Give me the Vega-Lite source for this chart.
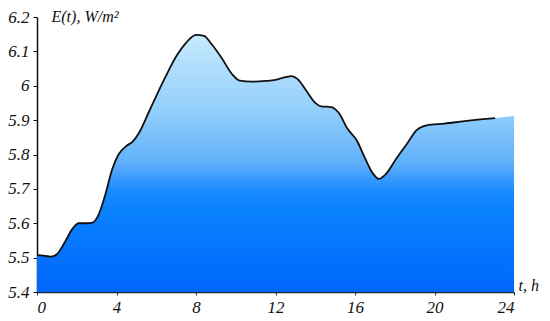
{
  "$schema": "https://vega.github.io/schema/vega-lite/v6.json",
  "autosize": "none",
  "width": 477,
  "height": 275,
  "padding": {"left": 37, "top": 17, "right": 36, "bottom": 29},
  "background": "white",
  "config": {
    "view": {"stroke": null},
    "axis": {
      "labelFont": "Liberation Serif", "labelFontStyle": "italic", "labelFontSize": 17, "labelColor": "#111",
      "titleFont": "Liberation Serif", "titleFontStyle": "italic", "titleFontWeight": "normal", "titleFontSize": 16, "titleColor": "#111",
      "grid": false, "zindex": 1
    }
  },
  "data": {"values": [
    {"t": 0, "E": 5.508}, {"t": 0.3, "E": 5.506}, {"t": 0.7, "E": 5.503}, {"t": 1.0, "E": 5.51},
    {"t": 1.4, "E": 5.545}, {"t": 1.8, "E": 5.585}, {"t": 2.1, "E": 5.6}, {"t": 2.5, "E": 5.6},
    {"t": 2.8, "E": 5.602}, {"t": 3.1, "E": 5.625}, {"t": 3.4, "E": 5.676}, {"t": 3.8, "E": 5.76},
    {"t": 4.1, "E": 5.8}, {"t": 4.5, "E": 5.825}, {"t": 4.8, "E": 5.837}, {"t": 5.2, "E": 5.87},
    {"t": 5.6, "E": 5.92}, {"t": 6.0, "E": 5.97}, {"t": 6.5, "E": 6.03}, {"t": 7.0, "E": 6.085},
    {"t": 7.5, "E": 6.125}, {"t": 8.0, "E": 6.148}, {"t": 8.4, "E": 6.145}, {"t": 8.8, "E": 6.12},
    {"t": 9.3, "E": 6.08}, {"t": 9.8, "E": 6.035}, {"t": 10.2, "E": 6.015}, {"t": 10.8, "E": 6.012},
    {"t": 11.5, "E": 6.014}, {"t": 12.0, "E": 6.017}, {"t": 12.5, "E": 6.025}, {"t": 12.8, "E": 6.028},
    {"t": 13.1, "E": 6.02}, {"t": 13.5, "E": 5.99}, {"t": 14.0, "E": 5.95}, {"t": 14.3, "E": 5.94},
    {"t": 14.8, "E": 5.938}, {"t": 15.2, "E": 5.92}, {"t": 15.6, "E": 5.877}, {"t": 16.1, "E": 5.84},
    {"t": 16.5, "E": 5.79}, {"t": 16.9, "E": 5.745}, {"t": 17.2, "E": 5.729}, {"t": 17.5, "E": 5.74},
    {"t": 18.1, "E": 5.79}, {"t": 18.6, "E": 5.83}, {"t": 19.1, "E": 5.871}, {"t": 19.6, "E": 5.885},
    {"t": 20.5, "E": 5.89}, {"t": 21.5, "E": 5.897}, {"t": 22.3, "E": 5.902}, {"t": 23.05, "E": 5.906},
    {"t": 24, "E": 5.912}
  ]},
  "encoding": {
    "x": {
      "field": "t", "type": "quantitative",
      "scale": {"domain": [0, 24], "nice": false, "zero": false},
      "axis": {
        "values": [0, 4, 8, 12, 16, 20, 24],
        "format": "d",
        "domainColor": "#1a2a3a", "domainWidth": 1.5,
        "tickColor": "#1a2a3a", "tickSize": 3,
        "labelPadding": 4,
        "title": "t, h",
        "titleX": 481, "titleY": -2, "titleAlign": "left", "titleBaseline": "alphabetic", "titleAnchor": null
      }
    },
    "y": {
      "field": "E", "type": "quantitative",
      "scale": {"domain": [5.4, 6.2], "nice": false, "zero": false},
      "axis": {
        "values": [5.4, 5.5, 5.6, 5.7, 5.8, 5.9, 6.0, 6.1, 6.2],
        "format": ".1~f",
        "domainColor": "#111", "domainWidth": 1.5,
        "tickColor": "#111", "tickSize": 4,
        "labelPadding": 4,
        "title": "E(t), W/m²",
        "titleAngle": 0, "titleX": 14, "titleY": 4, "titleAlign": "left", "titleBaseline": "alphabetic", "titleAnchor": null
      }
    }
  },
  "layer": [
    {
      "encoding": {"y2": {"datum": 5.4}},
      "mark": {
        "type": "area",
        "interpolate": "monotone",
        "fill": {
          "gradient": "linear",
          "x1": 0, "y1": 0, "x2": 0, "y2": 1,
          "stops": [
            {"offset": 0, "color": "#c6e9fd"},
            {"offset": 0.3, "color": "#92cefb"},
            {"offset": 0.5, "color": "#60b0fb"},
            {"offset": 0.6, "color": "#1c8cfe"},
            {"offset": 0.68, "color": "#0a82fe"},
            {"offset": 1, "color": "#0066fc"}
          ]
        }
      }
    },
    {
      "transform": [{"filter": "datum.t <= 23.1"}],
      "mark": {"type": "line", "interpolate": "monotone", "color": "#111", "strokeWidth": 1.8}
    }
  ]
}
